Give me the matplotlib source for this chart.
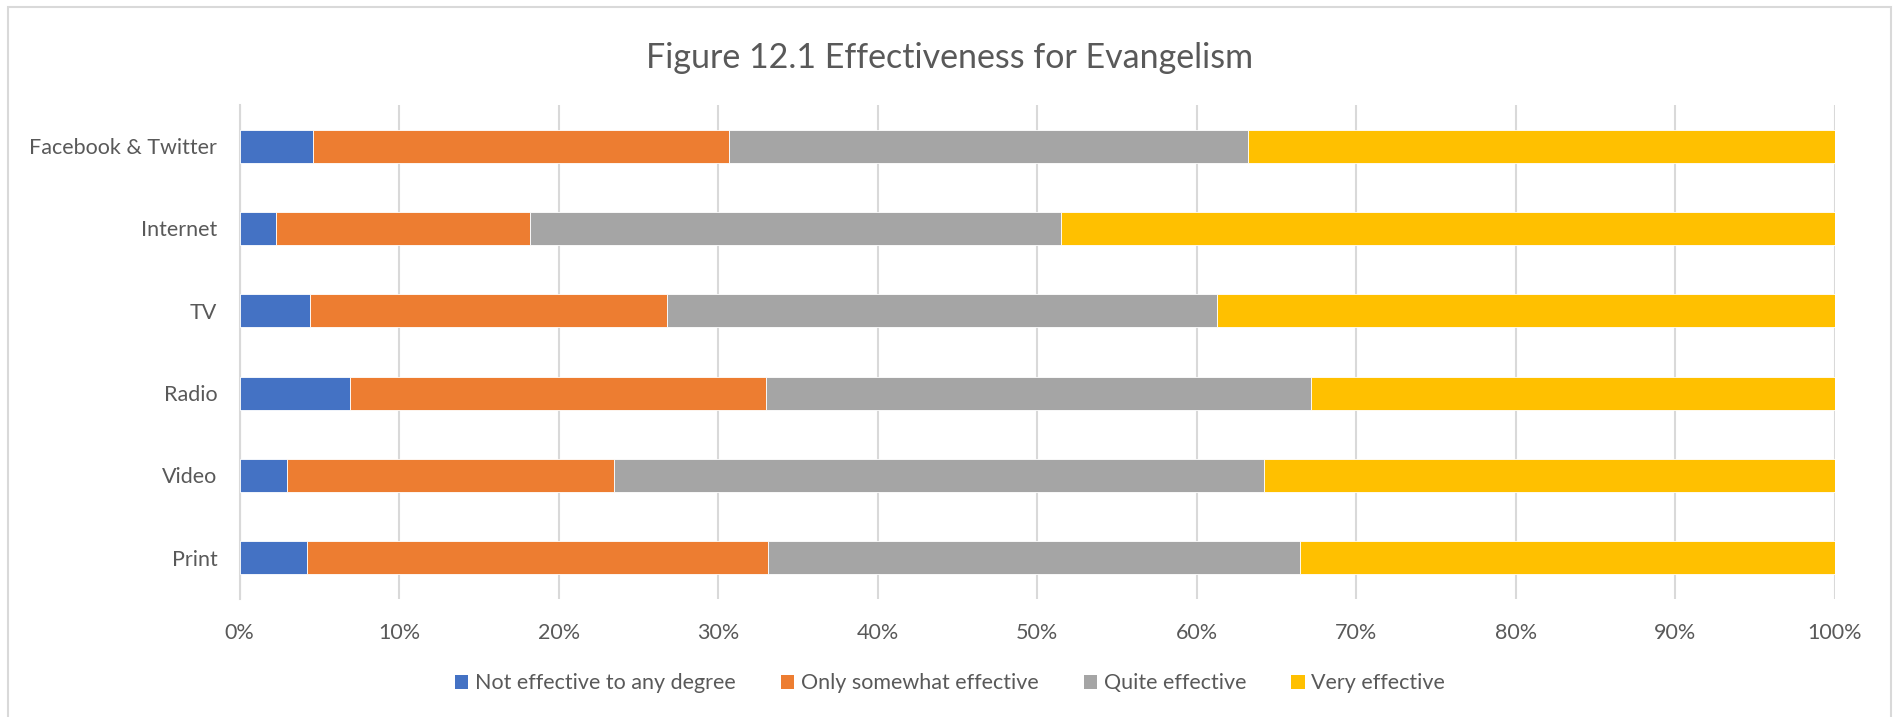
import numpy as np
import matplotlib
matplotlib.use("Agg")
from matplotlib import pyplot as plt
from matplotlib.patches import Rectangle, Patch
from matplotlib.ticker import PercentFormatter

plt.rcParams['font.family'] = ['Lato', 'DejaVu Sans']

# bottom to top, as drawn
media = ["Print", "Video", "Radio", "TV", "Internet", "Facebook & Twitter"]

not_effective = [4.2, 3.0, 6.9, 4.4, 2.3, 4.6]
somewhat_effective = [28.9, 20.5, 26.1, 22.4, 15.9, 26.1]
quite_effective = [33.4, 40.7, 34.2, 34.5, 33.3, 32.5]
very_effective = [33.5, 35.8, 32.8, 38.7, 48.5, 36.8]

series_names = ["Not effective to any degree", "Only somewhat effective",
                "Quite effective", "Very effective"]
colors = ["#4472C4", "#ED7D31", "#A5A5A5", "#FFC000"]
text_color = "#595959"

fig = plt.figure(figsize=(19, 7.17), dpi=100)
ax = fig.add_axes([0.1261, 0.1646, 0.8395, 0.689])

y = np.arange(len(media))
left = np.zeros(len(media))
for vals, name, col in zip([not_effective, somewhat_effective, quite_effective, very_effective],
                           series_names, colors):
    ax.barh(y, vals, left=left, height=0.4, color=col, label=name,
            edgecolor="white", linewidth=0.6, zorder=3)
    left += np.array(vals)

ax.set_xlim(0, 100)
ax.set_ylim(-0.5, len(media) - 0.5)
ax.set_xticks(np.arange(0, 101, 10))
ax.xaxis.set_major_formatter(PercentFormatter(decimals=0))
ax.set_yticks(y)
ax.set_yticklabels(media)

ax.grid(axis="x", color="#D9D9D9", linewidth=1.5, zorder=0)
ax.set_axisbelow(True)
for s in ["top", "right", "bottom"]:
    ax.spines[s].set_visible(False)
ax.spines["left"].set_color("#D9D9D9")
ax.spines["left"].set_linewidth(1.5)

ax.tick_params(axis="x", length=0, pad=17, labelsize=15.5, labelcolor=text_color)
ax.tick_params(axis="y", length=0, pad=16, labelsize=15.5, labelcolor=text_color)

fig.text(0.5, 0.905, "Figure 12.1 Effectiveness for Evangelism", ha="center",
         va="baseline", fontsize=24.5, color=text_color)

handles = [Patch(facecolor=c, edgecolor="none") for c in colors]
fig.legend(handles, series_names, loc="center", bbox_to_anchor=(0.5, 0.047),
           ncol=4, frameon=False, fontsize=15.5, handlelength=0.63,
           handleheight=0.63, handletextpad=0.3, columnspacing=2.1,
           labelcolor=text_color)

# chart frame
fig.patches.append(Rectangle((8 / 1900, -0.01), (1891 - 8) / 1900, 1.01 - 7 / 717,
                             transform=fig.transFigure, fill=False,
                             edgecolor="#D9D9D9", linewidth=1.5))

fig.savefig("out.png", dpi=100, facecolor="white")
